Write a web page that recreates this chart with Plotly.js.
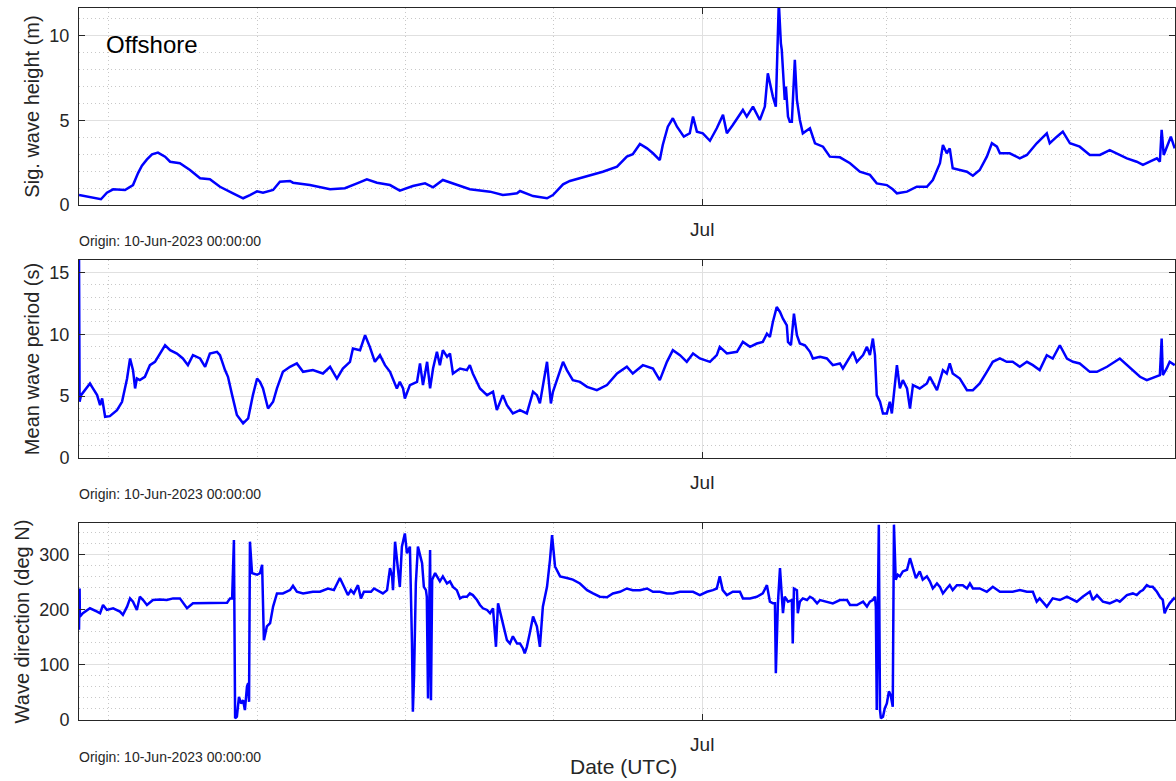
<!DOCTYPE html>
<html>
<head>
<meta charset="utf-8">
<script src="https://cdn.plot.ly/plotly-3.0.1.min.js"></script>
<style>
  html, body { margin: 0; padding: 0; background: #ffffff; }
  #chart { width: 1176px; height: 781px; }
</style>
</head>
<body>
<div id="chart"></div>
<script>
// ---- Data (days since origin 10-Jun-2023 00:00 UTC) ----
const originLabel = "Origin: 10-Jun-2023 00:00:00";
const xTickVals = ["2023-07-01"];
const xTickText = ["Jul"];
const xMinorVals = ["2023-06-11", "2023-06-16", "2023-06-21", "2023-06-26", "2023-07-07 04:48", "2023-07-13 09:36"];
const xStartDays = 0;
const xEndDays = 36.93;

// Significant wave height (m)
const hsDays = [0.00,0.74,0.94,1.15,1.55,1.82,1.99,2.12,2.29,2.46,2.66,2.90,3.07,3.40,3.74,4.08,4.41,4.75,5.19,5.53,5.76,6.00,6.20,6.54,6.77,7.11,7.21,7.78,8.46,8.96,9.37,9.70,10.04,10.48,10.81,11.25,11.66,11.93,12.26,12.67,13.17,13.85,14.28,14.76,14.86,15.30,15.77,15.97,16.31,16.54,17.22,17.65,18.13,18.46,18.66,18.90,19.14,19.34,19.57,19.67,19.84,20.01,20.15,20.38,20.58,20.69,20.82,21.02,21.26,21.49,21.70,21.83,22.03,22.27,22.37,22.50,22.71,22.94,23.11,23.21,23.38,23.48,23.55,23.58,23.65,23.68,23.78,23.82,23.89,23.95,24.02,24.12,24.19,24.29,24.39,24.63,24.80,25.07,25.30,25.64,25.98,26.31,26.65,26.88,27.22,27.42,27.56,27.90,28.23,28.57,28.77,29.01,29.11,29.24,29.34,29.44,29.68,29.92,30.12,30.35,30.59,30.76,30.93,31.03,31.36,31.70,31.94,32.27,32.61,32.71,32.95,33.15,33.39,33.72,34.06,34.40,34.73,34.97,35.31,35.64,35.85,36.08,36.32,36.42,36.48,36.55,36.65,36.79,36.92];
const hsVals = [0.59,0.34,0.73,0.93,0.89,1.18,1.89,2.33,2.70,3.00,3.10,2.86,2.56,2.47,2.07,1.58,1.52,1.08,0.69,0.40,0.59,0.81,0.73,0.89,1.38,1.42,1.32,1.18,0.93,0.99,1.28,1.52,1.32,1.18,0.85,1.12,1.28,1.05,1.48,1.24,0.93,0.79,0.59,0.69,0.83,0.53,0.40,0.59,1.22,1.42,1.73,1.97,2.27,2.86,3.00,3.61,3.35,3.06,2.66,3.55,4.63,5.13,4.63,4.04,4.24,5.23,4.34,4.24,3.80,4.54,5.33,4.24,4.73,5.33,5.62,5.23,5.82,5.03,5.82,7.79,6.41,5.82,11.50,12.00,9.56,9.17,6.21,7.00,5.23,4.93,4.93,8.58,6.21,5.03,4.24,4.54,3.65,3.45,2.86,2.82,2.47,1.97,1.78,1.28,1.18,0.93,0.69,0.79,1.08,1.08,1.48,2.47,3.55,3.06,3.35,2.17,2.07,1.97,1.73,2.07,2.86,3.65,3.45,3.06,3.06,2.76,2.96,3.65,4.24,3.65,4.04,4.34,3.65,3.45,2.96,2.96,3.25,3.06,2.76,2.56,2.37,2.56,2.76,2.56,4.44,2.96,3.45,4.04,3.35];

// Mean wave period (s)
const tmDays = [0.00,0.02,0.07,0.20,0.37,0.47,0.61,0.71,0.78,0.88,1.04,1.28,1.45,1.62,1.72,1.82,1.89,1.95,2.05,2.22,2.39,2.56,2.73,2.90,3.07,3.30,3.50,3.67,3.84,4.08,4.25,4.41,4.65,4.75,4.92,5.02,5.16,5.32,5.53,5.70,5.86,6.00,6.10,6.20,6.37,6.54,6.67,6.87,7.11,7.34,7.55,7.88,8.22,8.46,8.69,8.89,9.13,9.23,9.47,9.64,9.80,9.97,10.14,10.31,10.48,10.71,10.81,10.92,10.98,11.15,11.39,11.49,11.59,11.73,11.83,11.93,12.06,12.16,12.26,12.40,12.50,12.60,12.84,13.07,13.17,13.27,13.51,13.75,13.95,14.08,14.28,14.42,14.62,14.86,15.09,15.19,15.30,15.43,15.53,15.77,15.90,15.97,16.11,16.21,16.31,16.44,16.64,16.88,17.12,17.45,17.79,18.13,18.46,18.66,19.00,19.34,19.57,19.81,20.01,20.25,20.48,20.69,20.92,21.26,21.49,21.59,21.83,22.17,22.37,22.61,22.84,23.04,23.18,23.28,23.38,23.51,23.62,23.72,23.85,23.89,23.99,24.09,24.19,24.29,24.46,24.63,24.73,24.97,25.20,25.40,25.64,25.74,25.88,25.98,26.08,26.21,26.42,26.55,26.65,26.75,26.82,26.88,26.99,27.09,27.22,27.32,27.39,27.56,27.66,27.76,27.90,28.00,28.10,28.33,28.57,28.67,28.91,29.11,29.24,29.34,29.44,29.68,29.92,30.12,30.35,30.59,30.79,31.03,31.26,31.46,31.70,31.94,32.14,32.37,32.61,32.81,33.05,33.29,33.49,33.72,34.06,34.30,34.64,35.07,35.31,35.51,35.75,35.98,36.32,36.42,36.48,36.52,36.65,36.75,36.92];
const tmVals = [16.5,4.54,5.08,5.48,6.02,5.62,5.08,4.27,4.81,3.33,3.38,3.87,4.54,6.42,8.04,7.10,5.62,6.42,6.29,6.56,7.50,7.77,8.44,9.11,8.71,8.44,8.04,7.50,8.31,8.04,7.37,8.44,8.58,8.31,7.10,6.56,5.08,3.47,2.80,3.20,5.08,6.42,6.15,5.62,4.00,4.54,5.62,6.96,7.37,7.64,6.96,7.10,6.83,7.37,6.42,7.23,7.77,8.85,8.71,9.92,8.98,7.77,8.31,7.50,6.96,5.62,6.15,5.62,4.81,5.89,6.15,7.64,5.89,7.77,5.62,7.23,8.58,7.50,8.71,8.18,8.44,6.83,7.23,7.10,7.50,6.83,5.62,5.08,5.35,3.87,5.08,4.27,3.60,3.87,3.60,4.54,5.35,5.08,4.41,7.77,4.41,5.35,6.42,7.10,7.77,7.10,6.29,6.15,5.75,5.48,5.89,6.83,7.37,6.83,7.50,7.23,6.29,7.77,8.71,8.31,7.77,8.44,8.04,7.77,8.31,8.98,8.44,8.58,9.38,8.98,9.25,9.38,10.05,9.78,10.99,12.20,11.80,11.26,10.72,9.38,9.11,11.67,9.92,9.25,9.11,8.58,8.04,8.18,8.04,7.50,7.64,7.23,7.77,8.18,8.58,7.77,8.31,8.98,8.31,9.65,8.31,5.08,4.54,3.60,3.60,4.54,3.60,7.50,5.62,6.29,5.62,4.00,5.89,5.62,6.02,6.56,5.48,7.10,6.83,7.64,6.83,6.42,5.48,5.48,6.02,6.96,7.77,8.04,7.77,7.77,7.37,7.77,7.50,7.10,8.31,8.04,9.11,8.04,7.77,7.64,6.96,6.96,7.37,8.04,7.50,7.10,6.56,6.29,6.56,6.70,9.65,6.70,7.23,7.77,7.50];

// Wave direction (deg N)
const dirDays = [0.00,0.02,0.03,0.13,0.27,0.37,0.61,0.71,0.81,0.94,1.15,1.38,1.48,1.62,1.72,1.82,1.95,2.05,2.16,2.29,2.49,2.73,2.96,3.17,3.40,3.64,3.84,4.08,4.41,4.75,4.99,5.09,5.16,5.22,5.26,5.32,5.39,5.46,5.53,5.59,5.66,5.70,5.73,5.76,5.83,6.00,6.10,6.17,6.23,6.33,6.44,6.54,6.67,6.87,7.11,7.21,7.34,7.55,7.88,8.12,8.39,8.59,8.79,8.93,9.06,9.16,9.26,9.40,9.50,9.60,9.84,9.94,10.14,10.24,10.38,10.48,10.55,10.58,10.65,10.71,10.81,10.88,10.98,11.05,11.15,11.22,11.25,11.29,11.35,11.42,11.49,11.56,11.62,11.69,11.72,11.76,11.83,11.86,11.90,12.00,12.16,12.26,12.40,12.50,12.60,12.73,12.84,12.94,13.07,13.17,13.27,13.41,13.51,13.61,13.75,13.85,13.95,14.05,14.12,14.18,14.28,14.42,14.52,14.62,14.76,14.86,14.96,15.02,15.09,15.19,15.30,15.43,15.53,15.63,15.77,15.87,15.94,16.04,16.21,16.44,16.64,16.88,17.12,17.32,17.55,17.79,17.99,18.23,18.46,18.66,18.90,19.14,19.34,19.57,19.81,20.01,20.25,20.48,20.69,20.92,21.16,21.36,21.49,21.59,21.69,21.83,22.03,22.27,22.37,22.61,22.84,23.04,23.18,23.28,23.38,23.45,23.48,23.55,23.62,23.72,23.78,23.89,24.02,24.05,24.09,24.19,24.22,24.29,24.39,24.53,24.63,24.73,24.87,24.97,25.20,25.40,25.64,25.88,25.98,26.21,26.42,26.55,26.65,26.75,26.82,26.85,26.88,26.95,26.99,27.02,27.09,27.15,27.22,27.29,27.35,27.42,27.46,27.52,27.59,27.66,27.76,27.90,28.00,28.10,28.20,28.33,28.43,28.57,28.67,28.77,28.91,29.01,29.11,29.24,29.34,29.44,29.58,29.78,29.92,30.02,30.12,30.35,30.59,30.79,31.03,31.26,31.46,31.70,31.94,32.14,32.27,32.37,32.61,32.81,33.05,33.29,33.39,33.62,33.82,34.06,34.16,34.30,34.40,34.50,34.73,34.97,35.07,35.31,35.51,35.64,35.75,35.85,35.98,36.08,36.18,36.32,36.42,36.52,36.58,36.65,36.75,36.89,36.92];
const dirVals = [164,239,188,194,200,203,197,194,209,200,203,197,191,206,221,215,200,224,218,209,218,219,218,221,221,203,212,212,212,212,213,221,221,327,3,6,42,30,36,18,61,67,33,324,267,264,267,282,145,170,176,206,230,230,236,244,233,230,233,233,239,236,258,242,227,236,230,245,221,233,233,239,233,230,236,276,261,236,324,297,242,315,339,303,315,139,15,79,248,315,297,285,242,236,224,39,309,36,255,267,252,261,248,252,242,236,221,224,224,230,227,218,209,203,200,194,203,133,212,200,176,145,139,152,139,139,130,121,133,158,188,170,133,206,242,291,336,279,261,258,255,248,236,230,224,223,230,233,239,236,236,239,233,233,230,230,233,233,233,227,233,236,239,261,236,227,233,233,221,221,224,230,245,215,212,212,85,212,276,194,224,215,218,139,239,236,194,215,221,218,224,221,212,218,215,212,218,218,209,209,215,206,215,218,224,206,18,355,18,3,6,21,30,52,45,24,355,255,264,261,270,273,294,276,258,270,255,261,252,239,248,242,230,239,245,236,245,245,239,248,239,239,233,242,233,233,233,236,233,233,215,221,206,221,218,224,221,215,224,233,218,227,221,215,212,218,215,227,230,227,233,236,245,242,242,233,224,218,194,203,212,221,218];

// ---- Build ----
const originMs = Date.UTC(2023, 5, 10);
function toDate(d) {
  return new Date(originMs + d * 86400000).toISOString().slice(0, 19).replace('T', ' ');
}
const xRange = [toDate(xStartDays), toDate(xEndDays)];

const lineStyle = { color: '#0000ff', width: 2.5 };
const traces = [
  { x: hsDays.map(toDate), y: hsVals, xaxis: 'x', yaxis: 'y', type: 'scatter', mode: 'lines', line: lineStyle, hoverinfo: 'x+y' },
  { x: tmDays.map(toDate), y: tmVals, xaxis: 'x2', yaxis: 'y2', type: 'scatter', mode: 'lines', line: lineStyle, hoverinfo: 'x+y' },
  { x: dirDays.map(toDate), y: dirVals, xaxis: 'x3', yaxis: 'y3', type: 'scatter', mode: 'lines', line: lineStyle, hoverinfo: 'x+y' }
];

const axisColor = '#262626';
const majorGrid = '#e0e0e0';
const minorGrid = '#c8c8c8';
const minorDash = '1px,3px';
const fontFam = 'Liberation Sans, Arial, Helvetica, sans-serif';

function xAxis(anchor) {
  return {
    type: 'date', anchor: anchor, range: xRange,
    tickmode: 'array', tickvals: xTickVals, ticktext: xTickText,
    ticks: 'inside', ticklen: 6, tickwidth: 1, tickcolor: axisColor,
    showline: true, linecolor: axisColor, linewidth: 1, mirror: 'ticks',
    showgrid: true, gridcolor: majorGrid, gridwidth: 1,
    minor: { tickmode: 'array', tickvals: xMinorVals, showgrid: true, gridcolor: minorGrid, griddash: minorDash, gridwidth: 1, ticks: '' },
    tickfont: { size: 19, color: axisColor, family: fontFam },
    ticklabelstandoff: 7,
    zeroline: false, fixedrange: true
  };
}
function yAxis(anchor, domain, range, dtick, minorDtick, title) {
  return {
    anchor: anchor, domain: domain, range: range,
    tickmode: 'linear', tick0: 0, dtick: dtick,
    ticks: 'inside', ticklen: 6, tickwidth: 1, tickcolor: axisColor,
    showline: true, linecolor: axisColor, linewidth: 1, mirror: 'ticks',
    showgrid: true, gridcolor: majorGrid, gridwidth: 1,
    minor: { dtick: minorDtick, tick0: 0, showgrid: true, gridcolor: minorGrid, griddash: minorDash, gridwidth: 1, ticks: '' },
    tickfont: { size: 18, color: axisColor, family: fontFam },
    ticklabelstandoff: 5,
    title: { text: title, font: { size: 20, color: axisColor, family: fontFam }, standoff: 4 },
    zeroline: false, fixedrange: true
  };
}

const layout = {
  width: 1176, height: 781,
  margin: { l: 79, r: 1, t: 8, b: 61, pad: 0 },
  paper_bgcolor: '#ffffff', plot_bgcolor: '#ffffff',
  showlegend: false,
  font: { family: fontFam, color: axisColor },
  xaxis: xAxis('y'),
  xaxis2: xAxis('y2'),
  xaxis3: xAxis('y3'),
  yaxis: yAxis('x', [0.7233, 1.0], [0, 11.65], 5, 1, 'Sig. wave height (m)'),
  yaxis2: yAxis('x2', [0.3680, 0.6461], [0, 16], 5, 1, 'Mean wave period (s)'),
  yaxis3: yAxis('x3', [0, 0.2767], [0, 358], 100, 20, 'Wave direction (deg N)'),
  annotations: [
    { text: 'Offshore', xref: 'x domain', yref: 'y domain', x: 0.023, y: 0.817, xanchor: 'left', yanchor: 'middle', showarrow: false, font: { size: 24, color: '#000000', family: fontFam } },
    { text: originLabel, xref: 'paper', yref: 'paper', x: -0.002, y: (720 - 241) / 712, xanchor: 'left', yanchor: 'middle', showarrow: false, font: { size: 14, color: axisColor, family: fontFam } },
    { text: originLabel, xref: 'paper', yref: 'paper', x: -0.002, y: (720 - 494) / 712, xanchor: 'left', yanchor: 'middle', showarrow: false, font: { size: 14, color: axisColor, family: fontFam } },
    { text: originLabel, xref: 'paper', yref: 'paper', x: -0.002, y: (720 - 757) / 712, xanchor: 'left', yanchor: 'middle', showarrow: false, font: { size: 14, color: axisColor, family: fontFam } },
    { text: 'Date (UTC)', xref: 'paper', yref: 'paper', x: 0.497, y: (720 - 766) / 712, xanchor: 'center', yanchor: 'middle', showarrow: false, font: { size: 21, color: axisColor, family: fontFam } }
  ]
};

Plotly.newPlot('chart', traces, layout, { displayModeBar: false, staticPlot: true });
</script>
</body>
</html>
